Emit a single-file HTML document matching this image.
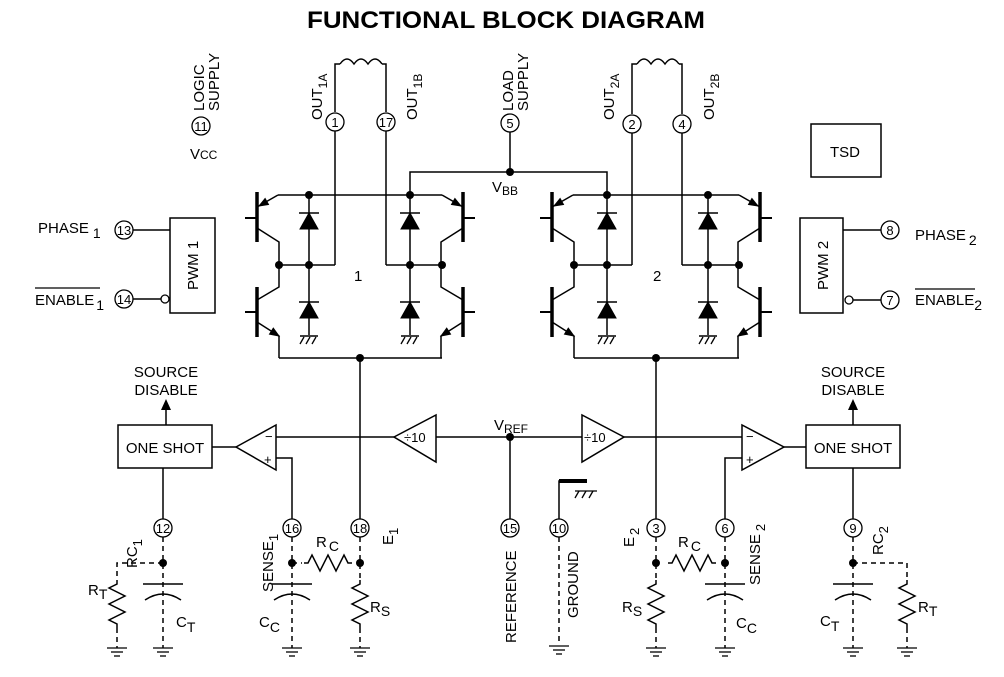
<!DOCTYPE html>
<html><head><meta charset="utf-8"><style>
html,body{margin:0;padding:0;background:#fff;}
svg{display:block;}
text{font-family:"Liberation Sans",sans-serif;fill:#000;}
</style></head><body>
<svg width="1004" height="677" viewBox="0 0 1004 677" xmlns="http://www.w3.org/2000/svg">
<defs>
<g id="tr" stroke="#000" fill="none">
  <line x1="0" y1="192" x2="0" y2="242" stroke-width="3.5"/>
  <line x1="-12" y1="218" x2="0" y2="218" stroke-width="2"/>
  <polyline points="0,207 21,195" stroke-width="1.5"/>
  <polygon points="2,206 11.5,204.5 8.1,198.5" fill="#000" stroke-width="1"/>
  <polyline points="0,228 22,242 22,265" stroke-width="1.5"/>
  <line x1="0" y1="287" x2="0" y2="337" stroke-width="3.5"/>
  <line x1="-12" y1="312" x2="0" y2="312" stroke-width="2"/>
  <polyline points="0,300 22,287 22,265" stroke-width="1.5"/>
  <polyline points="0,322 22,336 22,358" stroke-width="1.5"/>
  <polygon points="22,336 12.5,334.2 16.3,328.2" fill="#000" stroke-width="1"/>
</g>
<g id="dd" stroke="#000">
  <line x1="0" y1="195" x2="0" y2="335" stroke-width="1.5"/>
  <line x1="-10" y1="213" x2="10" y2="213" stroke-width="1.5"/>
  <polygon points="-9,229 9,229 0,213" fill="#000" stroke-width="1"/>
  <line x1="-10" y1="302" x2="10" y2="302" stroke-width="1.5"/>
  <polygon points="-9,318 9,318 0,302" fill="#000" stroke-width="1"/>
  <line x1="-9" y1="336" x2="9" y2="336" stroke-width="1.5"/>
  <line x1="-9" y1="344" x2="-5" y2="337" stroke-width="1.3"/>
  <line x1="-3" y1="344" x2="1" y2="337" stroke-width="1.3"/>
  <line x1="3" y1="344" x2="7" y2="337" stroke-width="1.3"/>
</g>
<g id="gnd" stroke="#000" stroke-width="1.3">
  <line x1="-10" y1="0" x2="10" y2="0"/>
  <line x1="-6" y1="4" x2="6" y2="4"/>
  <line x1="-3" y1="8" x2="3" y2="8"/>
</g>
<path id="rv" d="M0,0 l0,4 l-8,4 l16,8 l-16,8 l16,8 l-16,8 l8,4 l0,4" fill="none" stroke="#000" stroke-width="1.5"/>
<path id="rh" d="M0,0 l4,0 l4,-8 l8,16 l8,-16 l8,16 l8,-16 l4,8 l4,0" fill="none" stroke="#000" stroke-width="1.5"/>
<g id="cap" fill="none" stroke="#000" stroke-width="1.5">
  <line x1="-20" y1="0" x2="20" y2="0"/>
  <path d="M-18,16 Q0,4 18,16"/>
</g>
</defs>

<text x="307" y="28" font-size="24" font-weight="bold" textLength="398" lengthAdjust="spacingAndGlyphs">FUNCTIONAL BLOCK DIAGRAM</text>

<g stroke="#000" stroke-width="1.5" fill="none">
<line x1="278" y1="195" x2="442" y2="195"/>
<line x1="279" y1="265" x2="335" y2="265"/>
<line x1="386" y1="265" x2="442" y2="265"/>
<line x1="279" y1="358" x2="442" y2="358"/>
<line x1="335" y1="131" x2="335" y2="265"/>
<line x1="386" y1="131" x2="386" y2="265"/>
<polyline points="410,195 410,172 607,172 607,195"/>
<line x1="510" y1="132" x2="510" y2="172"/>
<line x1="360" y1="358" x2="360" y2="519"/>
<line x1="573" y1="195" x2="739" y2="195"/>
<line x1="574" y1="265" x2="632" y2="265"/>
<line x1="682" y1="265" x2="739" y2="265"/>
<line x1="574" y1="358" x2="739" y2="358"/>
<line x1="632" y1="133" x2="632" y2="265"/>
<line x1="682" y1="133" x2="682" y2="265"/>
<line x1="656" y1="358" x2="656" y2="519"/>
<path d="M335,112 L335,64 L340,64"/>
<path d="M340,64 q7,-10 14,0 q7,-10 14,0 q7,-10 14,0"/>
<path d="M382,64 L386,64 L386,112"/>
<path d="M632,114 L632,64 L637,64"/>
<path d="M637,64 q7,-10 14,0 q7,-10 14,0 q7,-10 14,0"/>
<path d="M679,64 L682,64 L682,114"/>
<rect x="170" y="218" width="45" height="95"/>
<rect x="800" y="218" width="43" height="95"/>
<rect x="811" y="124" width="70" height="53"/>
<line x1="133" y1="230" x2="170" y2="230"/>
<line x1="133" y1="299" x2="161" y2="299"/>
<line x1="853" y1="300" x2="881" y2="300"/>
<line x1="843" y1="230" x2="881" y2="230"/>
<rect x="118" y="425" width="94" height="43"/>
<rect x="806" y="425" width="94" height="43"/>
<polygon points="236,447 276,425 276,470"/>
<polygon points="784,447 742,425 742,470"/>
<polygon points="394,437 436,415 436,462"/>
<polygon points="624,437 582,415 582,462"/>
<line x1="212" y1="447" x2="236" y2="447"/>
<line x1="784" y1="447" x2="806" y2="447"/>
<line x1="276" y1="437" x2="394" y2="437"/>
<line x1="436" y1="437" x2="582" y2="437"/>
<line x1="624" y1="437" x2="742" y2="437"/>
<polyline points="276,458 292,458 292,519"/>
<polyline points="742,458 725,458 725,519"/>
<line x1="166" y1="425" x2="166" y2="408"/>
<line x1="853" y1="425" x2="853" y2="408"/>
<line x1="163" y1="468" x2="163" y2="519"/>
<line x1="853" y1="468" x2="853" y2="519"/>
<line x1="510" y1="437" x2="510" y2="519"/>
<polyline points="559,519 559,481 587,481"/>
</g>
<line x1="559" y1="481" x2="587" y2="481" stroke="#000" stroke-width="4"/>
<g stroke="#000" stroke-width="1.3">
<line x1="575" y1="491" x2="597" y2="491"/>
<line x1="575" y1="498" x2="579" y2="491"/><line x1="582" y1="498" x2="586" y2="491"/><line x1="589" y1="498" x2="593" y2="491"/>
</g>
<polygon points="166,399 161,410 171,410" fill="#000"/>
<polygon points="853,399 848,410 858,410" fill="#000"/>
<circle cx="165" cy="299" r="4" fill="#fff" stroke="#000" stroke-width="1.3"/>
<circle cx="849" cy="300" r="4" fill="#fff" stroke="#000" stroke-width="1.3"/>

<use href="#tr" transform="translate(257,0)"/>
<use href="#tr" transform="translate(463,0) scale(-1,1)"/>
<use href="#tr" transform="translate(552,0)"/>
<use href="#tr" transform="translate(760,0) scale(-1,1)"/>
<use href="#dd" x="309"/><use href="#dd" x="410"/><use href="#dd" x="607"/><use href="#dd" x="708"/>

<g fill="#000">
<circle cx="309" cy="195" r="4"/><circle cx="410" cy="195" r="4"/><circle cx="279" cy="265" r="4"/><circle cx="309" cy="265" r="4"/><circle cx="410" cy="265" r="4"/><circle cx="442" cy="265" r="4"/><circle cx="360" cy="358" r="4"/><circle cx="510" cy="172" r="4"/>
<circle cx="607" cy="195" r="4"/><circle cx="708" cy="195" r="4"/><circle cx="574" cy="265" r="4"/><circle cx="607" cy="265" r="4"/><circle cx="708" cy="265" r="4"/><circle cx="739" cy="265" r="4"/><circle cx="656" cy="358" r="4"/><circle cx="510" cy="437" r="4"/>
<circle cx="163" cy="563" r="4"/><circle cx="292" cy="563" r="4"/><circle cx="360" cy="563" r="4"/><circle cx="656" cy="563" r="4"/><circle cx="725" cy="563" r="4"/><circle cx="853" cy="563" r="4"/>
</g>

<g stroke="#000" stroke-width="1.5" fill="none" stroke-dasharray="5,4">
<line x1="163" y1="537" x2="163" y2="648"/>
<polyline points="163,563 117,563 117,580"/>
<line x1="117" y1="628" x2="117" y2="648"/>
<line x1="292" y1="537" x2="292" y2="648"/>
<line x1="292" y1="563" x2="302" y2="563"/>
<line x1="360" y1="537" x2="360" y2="580"/>
<line x1="360" y1="628" x2="360" y2="648"/>
<line x1="559" y1="537" x2="559" y2="645"/>
<line x1="656" y1="537" x2="656" y2="580"/>
<line x1="656" y1="628" x2="656" y2="648"/>
<line x1="725" y1="537" x2="725" y2="648"/>
<line x1="853" y1="537" x2="853" y2="648"/>
<polyline points="853,563 907,563 907,580"/>
<line x1="907" y1="628" x2="907" y2="648"/>
</g>
<use href="#rv" x="117" y="580"/><use href="#rv" x="360" y="580"/><use href="#rv" x="656" y="580"/><use href="#rv" x="907" y="580"/>
<use href="#rh" x="304" y="563"/><use href="#rh" x="668" y="563"/>
<use href="#cap" x="163" y="584"/><use href="#cap" x="292" y="584"/><use href="#cap" x="725" y="584"/><use href="#cap" x="853" y="584"/>
<use href="#gnd" x="117" y="648"/><use href="#gnd" x="163" y="648"/><use href="#gnd" x="292" y="648"/><use href="#gnd" x="360" y="648"/><use href="#gnd" x="559" y="646"/><use href="#gnd" x="656" y="648"/><use href="#gnd" x="725" y="648"/><use href="#gnd" x="853" y="648"/><use href="#gnd" x="907" y="648"/>

<g fill="#fff" stroke="#000" stroke-width="1.3">
<circle cx="335" cy="122" r="9"/><circle cx="386" cy="122" r="9"/><circle cx="510" cy="123" r="9"/><circle cx="632" cy="124" r="9"/><circle cx="682" cy="124" r="9"/><circle cx="201" cy="126" r="9"/>
<circle cx="124" cy="230" r="9"/><circle cx="124" cy="299" r="9"/><circle cx="890" cy="230" r="9"/><circle cx="890" cy="300" r="9"/>
<circle cx="163" cy="528" r="9"/><circle cx="292" cy="528" r="9"/><circle cx="360" cy="528" r="9"/><circle cx="510" cy="528" r="9"/><circle cx="559" cy="528" r="9"/><circle cx="656" cy="528" r="9"/><circle cx="725" cy="528" r="9"/><circle cx="853" cy="528" r="9"/>
</g>
<g font-size="13" text-anchor="middle">
<text x="335" y="127">1</text><text x="386" y="127">17</text><text x="510" y="128">5</text><text x="632" y="129">2</text><text x="682" y="129">4</text><text x="201" y="131">11</text>
<text x="124" y="235">13</text><text x="124" y="304">14</text><text x="890" y="235">8</text><text x="890" y="305">7</text>
<text x="163" y="533">12</text><text x="292" y="533">16</text><text x="360" y="533">18</text><text x="510" y="533">15</text><text x="559" y="533">10</text><text x="656" y="533">3</text><text x="725" y="533">6</text><text x="853" y="533">9</text>
</g>

<g font-size="15">
<text transform="translate(204,111) rotate(-90)">LOGIC</text>
<text transform="translate(219,111) rotate(-90)">SUPPLY</text>
<text transform="translate(513,111) rotate(-90)">LOAD</text>
<text transform="translate(528,111) rotate(-90)">SUPPLY</text>
<text x="190" y="159">V<tspan font-size="12">CC</tspan></text>
<text transform="translate(322,120) rotate(-90)">OUT<tspan font-size="12" dy="5">1A</tspan></text>
<text transform="translate(417,120) rotate(-90)">OUT<tspan font-size="12" dy="5">1B</tspan></text>
<text transform="translate(614,120) rotate(-90)">OUT<tspan font-size="12" dy="5">2A</tspan></text>
<text transform="translate(714,120) rotate(-90)">OUT<tspan font-size="12" dy="5">2B</tspan></text>
<text x="492" y="192">V<tspan font-size="12" dy="3">BB</tspan></text>
<text x="354" y="281">1</text><text x="653" y="281">2</text>
<text x="38" y="233">PHASE<tspan font-size="14" dy="5" dx="4">1</tspan></text>
<text x="35" y="305">ENABLE<tspan font-size="14" dy="5" dx="2">1</tspan></text>
<line x1="35" y1="288" x2="100" y2="288" stroke="#000" stroke-width="1.2"/>
<text x="915" y="240">PHASE<tspan font-size="14" dy="5" dx="3">2</tspan></text>
<text x="915" y="305">ENABLE<tspan font-size="14" dy="5">2</tspan></text>
<line x1="915" y1="289" x2="975" y2="289" stroke="#000" stroke-width="1.2"/>
<text transform="translate(198,290) rotate(-90)">PWM 1</text>
<text transform="translate(828,290) rotate(-90)">PWM 2</text>
<text x="830" y="157">TSD</text>
<text x="166" y="377" text-anchor="middle">SOURCE</text>
<text x="166" y="395" text-anchor="middle">DISABLE</text>
<text x="853" y="377" text-anchor="middle">SOURCE</text>
<text x="853" y="395" text-anchor="middle">DISABLE</text>
<text x="165" y="453" text-anchor="middle">ONE SHOT</text>
<text x="853" y="453" text-anchor="middle">ONE SHOT</text>
<text x="494" y="430">V<tspan font-size="12" dy="3">REF</tspan></text>
<text transform="translate(516,643) rotate(-90)">REFERENCE</text>
<text transform="translate(578,618) rotate(-90)">GROUND</text>
<text transform="translate(137,568) rotate(-90)">RC<tspan font-size="13" dy="5">1</tspan></text>
<text x="88" y="595">R<tspan font-size="14" dy="4">T</tspan></text>
<text x="176" y="627">C<tspan font-size="14" dy="5">T</tspan></text>
<text transform="translate(273,592) rotate(-90)">SENSE<tspan font-size="13" dy="5">1</tspan></text>
<text x="316" y="547">R<tspan font-size="14" dy="4" dx="2">C</tspan></text>
<text transform="translate(393,545) rotate(-90)">E<tspan font-size="13" dy="5">1</tspan></text>
<text x="259" y="627">C<tspan font-size="14" dy="5">C</tspan></text>
<text x="370" y="612">R<tspan font-size="14" dy="4">S</tspan></text>
<text transform="translate(634,547) rotate(-90)">E<tspan font-size="13" dy="5" dx="2">2</tspan></text>
<text x="678" y="547">R<tspan font-size="14" dy="4" dx="2">C</tspan></text>
<text transform="translate(760,585) rotate(-90)">SENSE<tspan font-size="13" dy="5" dx="3">2</tspan></text>
<text x="622" y="612">R<tspan font-size="14" dy="4">S</tspan></text>
<text x="736" y="628">C<tspan font-size="14" dy="5">C</tspan></text>
<text transform="translate(883,555) rotate(-90)">RC<tspan font-size="13" dy="5">2</tspan></text>
<text x="820" y="626">C<tspan font-size="14" dy="5">T</tspan></text>
<text x="918" y="612">R<tspan font-size="14" dy="4">T</tspan></text>
</g>
<g font-size="13">
<text x="265" y="441">−</text><text x="264" y="464">+</text>
<text x="746" y="441">−</text><text x="746" y="464">+</text>
<text x="404" y="442">÷10</text>
<text x="584" y="442">÷10</text>
</g>
</svg>
</body></html>
